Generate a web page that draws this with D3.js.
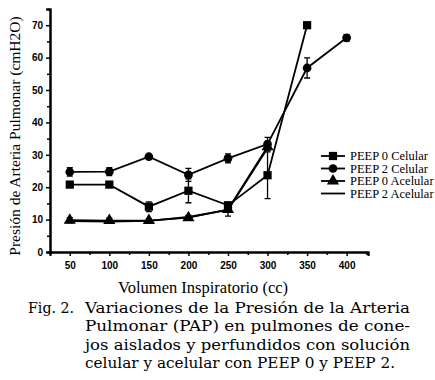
<!DOCTYPE html>
<html>
<head>
<meta charset="utf-8">
<script src="https://cdn.jsdelivr.net/npm/d3@7"></script>
<style>
  body { margin: 0; background: #fff; }
  svg { display: block; }
  .tick text { font-family: "Liberation Sans", Arial, sans-serif; font-weight: bold; font-size: 10px; fill: #000; }
</style>
</head>
<body>
<div id="chart"></div>
<script>
const volumes = [50, 100, 150, 200, 250, 300, 350, 400];
const seriesNames = ["PEEP 0 Celular", "PEEP 2 Celular", "PEEP 0 Acelular", "PEEP 2 Acelular"];
// mean values, null where no point
const peep0Cel = [20.8, 20.8, 14.0, 18.9, 14.4, 23.7, 70.0, null];
const peep2Cel = [24.7, 24.8, 29.4, 23.8, 28.9, 33.3, 56.8, 66.1];
const peep0Acel = [9.8, 9.7, 9.7, 10.6, 13.1, 32.5, null, null];
const peep2Acel = [9.5, 9.4, 9.6, 10.8, 13.0, 32.0, null, null];
// error bar half-widths
const peep0CelErr = [0.8, 0.8, 1.5, 3.7, 1.0, 7.2, 0.6, null];
const peep2CelErr = [1.3, 1.2, 0.6, 2.0, 1.4, 2.1, 3.1, 1.0];
const peep0AcelErr = [0.8, 0.8, 0.5, 0.7, 2.0, 1.0, null, null];
const xTicks = [50, 100, 150, 200, 250, 300, 350, 400];
const yTicks = [0, 10, 20, 30, 40, 50, 60, 70];
const caption = [
  "Variaciones de la Presión de la Arteria",
  "Pulmonar (PAP) en pulmones de cone-",
  "jos aislados y perfundidos con solución",
  "celular y acelular con PEEP 0 y PEEP 2."
];

const width = 435, height = 380;
const svg = d3.select("#chart").append("svg")
  .attr("width", width)
  .attr("height", height);

const x = d3.scaleLinear().domain([25, 427]).range([50, 368]);
const y = d3.scaleLinear().domain([0, 75]).range([252, 9]);

// axes
const xAxis = d3.axisBottom(x).tickValues(xTicks).tickSize(4).tickPadding(4).tickFormat(d3.format("d"));
const xMinor = d3.axisBottom(x).tickValues(d3.range(75, 426, 50)).tickSize(3).tickFormat("");
const yAxis = d3.axisLeft(y).tickValues(yTicks).tickSize(4).tickPadding(3);
const yMinor = d3.axisLeft(y).tickValues(d3.range(5, 76, 10)).tickSize(3).tickFormat("");

function styleAxis(g) {
  g.select(".domain").attr("stroke", "#000").attr("stroke-width", 2);
  g.selectAll(".tick line").attr("stroke", "#000").attr("stroke-width", 1.5);
}

svg.append("g").attr("transform", "translate(0,252)").call(xMinor).call(styleAxis);
svg.append("g").attr("transform", "translate(0,252)").call(xAxis).call(styleAxis)
  .selectAll(".tick text").attr("dy", "0.9em");
svg.append("g").attr("transform", "translate(50,0)").call(yMinor).call(styleAxis);
svg.append("g").attr("transform", "translate(50,0)").call(yAxis).call(styleAxis);

// axis titles
svg.append("text")
  .attr("transform", "translate(20,136) rotate(-90)")
  .attr("text-anchor", "middle")
  .style("font-family", "'Liberation Serif', 'Times New Roman', serif")
  .style("font-size", "15.5px")
  .text("Presión de Arteria Pulmonar (cmH2O)");

svg.append("text")
  .attr("x", 203)
  .attr("y", 293)
  .attr("text-anchor", "middle")
  .style("font-family", "'Liberation Serif', 'Times New Roman', serif")
  .style("font-size", "16.5px")
  .text("Volumen Inspiratorio (cc)");

function toPoints(vals, errs) {
  return volumes.map((v, i) => ({ x: v, y: vals[i], e: errs ? errs[i] : null }))
    .filter(d => d.y !== null);
}

const series = [
  { name: seriesNames[0], pts: toPoints(peep0Cel, peep0CelErr), marker: "square" },
  { name: seriesNames[1], pts: toPoints(peep2Cel, peep2CelErr), marker: "circle" },
  { name: seriesNames[2], pts: toPoints(peep0Acel, peep0AcelErr), marker: "triangle" },
  { name: seriesNames[3], pts: toPoints(peep2Acel, null), marker: null }
];

const line = d3.line().x(d => x(d.x)).y(d => y(d.y));

const symbolOf = {
  square: d3.symbol().type(d3.symbolSquare).size(68),
  circle: d3.symbol().type(d3.symbolCircle).size(60),
  triangle: d3.symbol().type(d3.symbolTriangle).size(64)
};

// draw acellular series first so the cellular markers sit on top
[3, 2, 0, 1].forEach(k => {
  const s = series[k];
  const g = svg.append("g");
  g.append("path")
    .datum(s.pts)
    .attr("fill", "none")
    .attr("stroke", "#000")
    .attr("stroke-width", 1.8)
    .attr("d", line);

  // error bars
  const eb = s.pts.filter(d => d.e);
  g.selectAll(".eb").data(eb).enter().append("path")
    .attr("fill", "none")
    .attr("stroke", "#000")
    .attr("stroke-width", 1.3)
    .attr("d", d => {
      const cx = x(d.x), t = y(d.y + d.e), b = y(d.y - d.e);
      return `M${cx},${t}V${b}M${cx - 3},${t}H${cx + 3}M${cx - 3},${b}H${cx + 3}`;
    });

  if (s.marker) {
    g.selectAll(".m").data(s.pts).enter().append("path")
      .attr("transform", d => `translate(${x(d.x)},${y(d.y)})`)
      .attr("d", symbolOf[s.marker]())
      .attr("fill", "#000");
  }
});

// legend
const legend = svg.append("g").attr("transform", "translate(321,156)");
series.forEach((s, i) => {
  const row = legend.append("g").attr("transform", `translate(0,${i * 12.5})`);
  row.append("line")
    .attr("x1", 0).attr("x2", 24)
    .attr("stroke", "#000").attr("stroke-width", 1.8);
  if (s.marker) {
    row.append("path")
      .attr("transform", "translate(12,0)")
      .attr("d", symbolOf[s.marker]())
      .attr("fill", "#000");
  }
  row.append("text")
    .attr("x", 29)
    .attr("y", 4)
    .style("font-family", "'Liberation Serif', 'Times New Roman', serif")
    .style("font-size", "12.5px")
    .text(s.name);
});

// caption
const capFont = "'DejaVu Serif', 'Liberation Serif', serif";
svg.append("text")
  .attr("x", 28).attr("y", 313)
  .style("font-family", capFont)
  .style("font-size", "15px")
  .attr("textLength", 46)
  .attr("lengthAdjust", "spacingAndGlyphs")
  .text("Fig. 2.");
caption.forEach((t, i) => {
  svg.append("text")
    .attr("x", 85)
    .attr("y", 313 + i * 18.3)
    .style("font-family", capFont)
    .style("font-size", "15px")
    .attr("textLength", i < caption.length - 1 ? 325 : 310)
    .attr("lengthAdjust", "spacingAndGlyphs")
    .text(t);
});
</script>
</body>
</html>
